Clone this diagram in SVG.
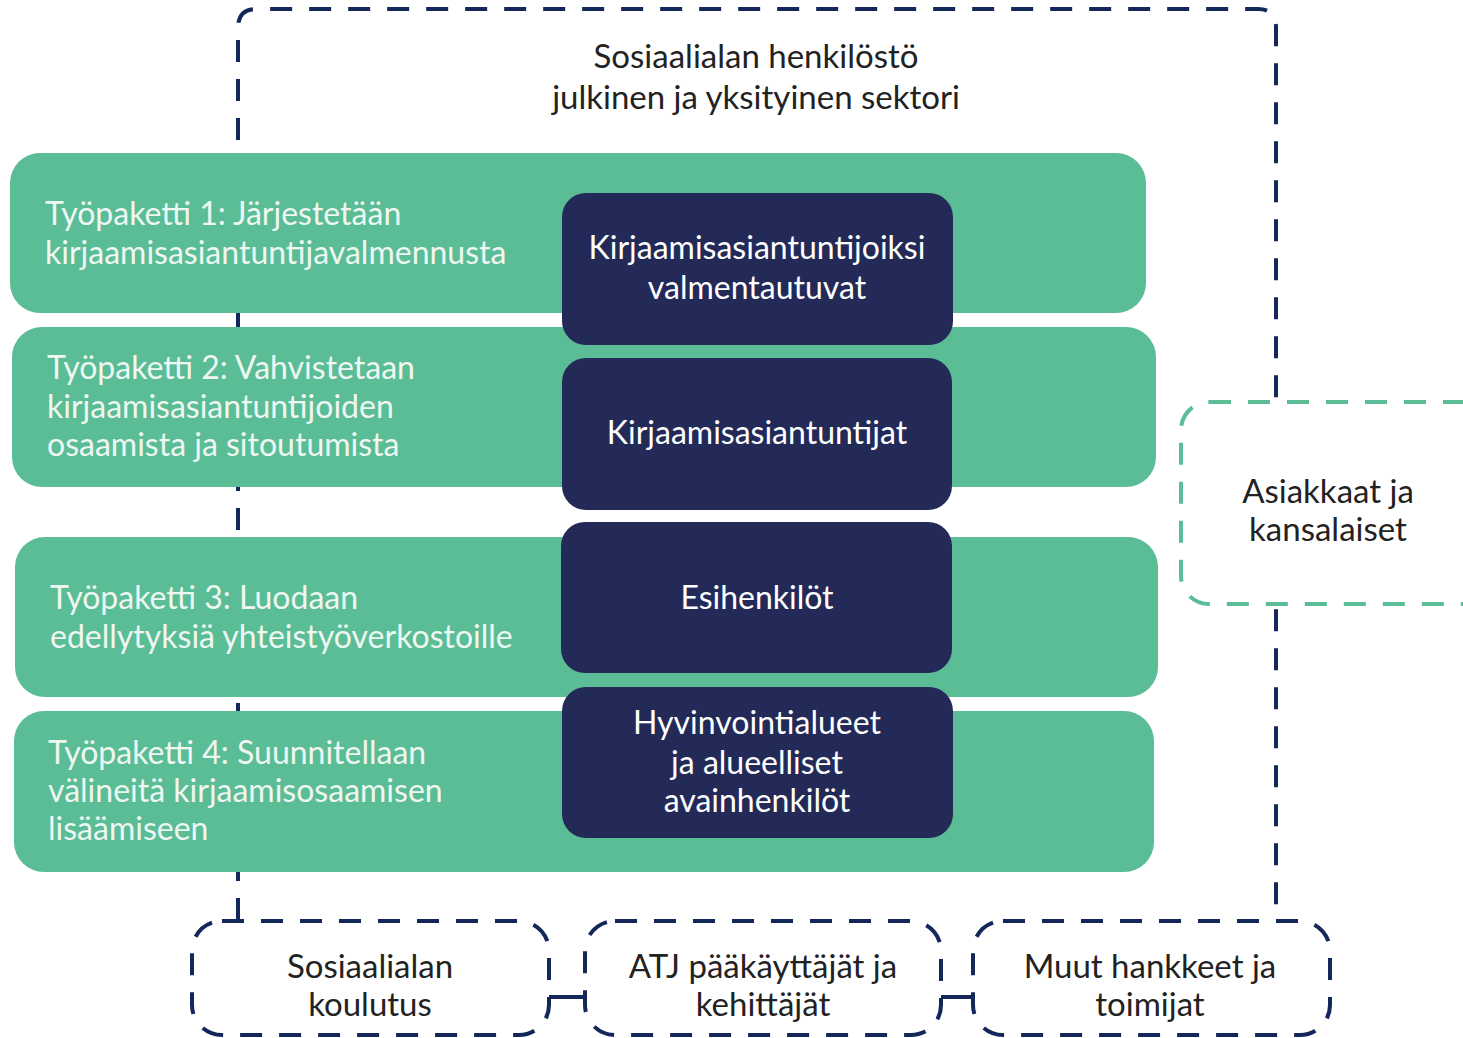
<svg xmlns="http://www.w3.org/2000/svg" width="1463" height="1038" viewBox="0 0 1463 1038">
<style>
.frame{fill:none;stroke:#14275a;stroke-width:4;stroke-dasharray:22 17}
.bar{fill:#5bbd95}
.nv{fill:#232a58}
.gt{font-family:Lato,"Open Sans",sans-serif;font-size:32px;fill:#eef7f2}
.wt{font-family:Lato,"Open Sans",sans-serif;font-size:32px;fill:#ffffff;text-anchor:middle}
.dt{font-family:Lato,"Open Sans",sans-serif;font-size:33px;fill:#222222;text-anchor:middle}
.ob{fill:#ffffff;stroke:#14275a;stroke-width:4;stroke-dasharray:22 17}
.gb{fill:#ffffff;stroke:#5bbd95;stroke-width:4;stroke-dasharray:22 17}
.ln{fill:none;stroke:#14275a;stroke-width:4}
</style>
<rect width="1463" height="1038" fill="#ffffff"/>
<g id="connectors">
<path class="frame" d="M238,920 V28 Q238,9 256,9 H1258 Q1276,9 1276,28 V920"/>
<path class="ln" d="M549,997 H585 M941,997 H973"/>
</g>
<g id="title">
<text class="dt" x="756" y="68">Sosiaalialan henkilöstö</text>
<text class="dt" x="756" y="109">julkinen ja yksityinen sektori</text>
</g>
<g id="wp1">
<rect class="bar" x="10" y="153" width="1136" height="160" rx="30"/>
<text class="gt" x="45" y="225">Työpaketti 1: Järjestetään</text>
<text class="gt" x="45" y="264">kirjaamisasiantuntijavalmennusta</text>
</g>
<g id="wp2">
<rect class="bar" x="12" y="327" width="1144" height="160" rx="30"/>
<text class="gt" x="47" y="379">Työpaketti 2: Vahvistetaan</text>
<text class="gt" x="47" y="418">kirjaamisasiantuntijoiden</text>
<text class="gt" x="47" y="456">osaamista ja sitoutumista</text>
</g>
<g id="wp3">
<rect class="bar" x="15" y="537" width="1143" height="160" rx="30"/>
<text class="gt" x="50" y="609">Työpaketti 3: Luodaan</text>
<text class="gt" x="50" y="648">edellytyksiä yhteistyöverkostoille</text>
</g>
<g id="wp4">
<rect class="bar" x="14" y="711" width="1140" height="161" rx="30"/>
<text class="gt" x="48" y="764">Työpaketti 4: Suunnitellaan</text>
<text class="gt" x="48" y="802">välineitä kirjaamisosaamisen</text>
<text class="gt" x="48" y="840">lisäämiseen</text>
</g>
<g id="n1">
<rect class="nv" x="562" y="193" width="391" height="152" rx="24"/>
<text class="wt" x="757" y="259">Kirjaamisasiantuntijoiksi</text>
<text class="wt" x="757" y="299">valmentautuvat</text>
</g>
<g id="n2">
<rect class="nv" x="562" y="358" width="390" height="152" rx="24"/>
<text class="wt" x="757" y="444">Kirjaamisasiantuntijat</text>
</g>
<g id="n3">
<rect class="nv" x="561" y="522" width="391" height="151" rx="24"/>
<text class="wt" x="757" y="609">Esihenkilöt</text>
</g>
<g id="n4">
<rect class="nv" x="562" y="687" width="391" height="151" rx="24"/>
<text class="wt" x="757" y="734">Hyvinvointialueet</text>
<text class="wt" x="757" y="774">ja alueelliset</text>
<text class="wt" x="757" y="812">avainhenkilöt</text>
</g>
<g id="asiakkaat">
<rect class="gb" x="1181" y="402" width="310" height="202" rx="28"/>
<text class="dt" x="1328" y="503">Asiakkaat ja</text>
<text class="dt" x="1328" y="541">kansalaiset</text>
</g>
<g id="koulutus">
<rect class="ob" x="192" y="921" width="357" height="114" rx="30"/>
<text class="dt" x="370" y="978">Sosiaalialan</text>
<text class="dt" x="370" y="1016">koulutus</text>
</g>
<g id="atj">
<rect class="ob" x="585" y="921" width="356" height="114" rx="30"/>
<text class="dt" x="763" y="978">ATJ pääkäyttäjät ja</text>
<text class="dt" x="763" y="1016">kehittäjät</text>
</g>
<g id="muut">
<rect class="ob" x="973" y="921" width="357" height="114" rx="30"/>
<text class="dt" x="1150" y="978">Muut hankkeet ja</text>
<text class="dt" x="1150" y="1016">toimijat</text>
</g>
</svg>
